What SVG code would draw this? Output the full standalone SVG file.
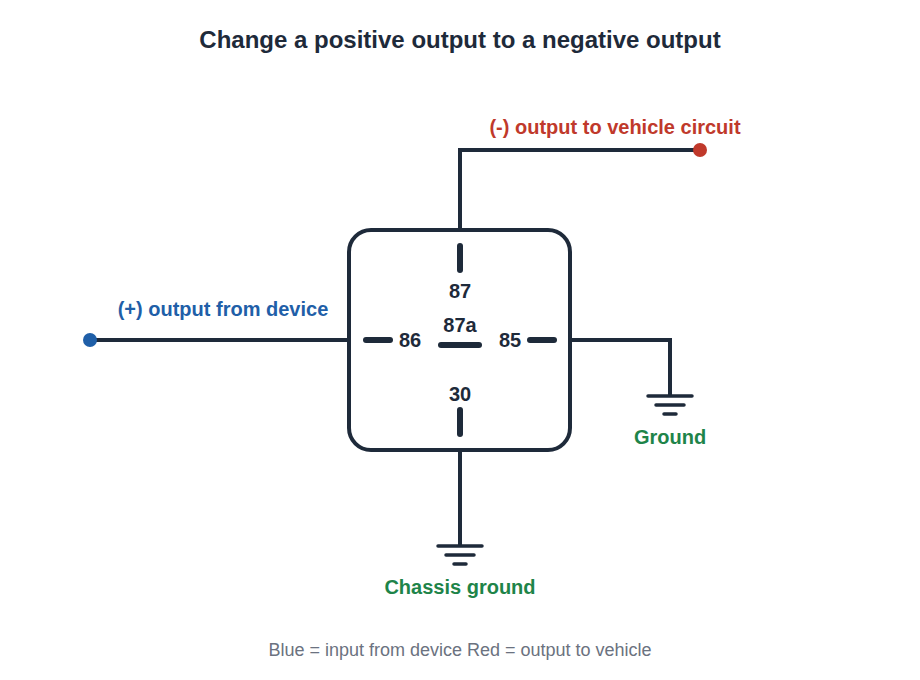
<svg xmlns="http://www.w3.org/2000/svg" width="920" height="680" viewBox="0 0 920 680">
<style>
.w{stroke:#1e2a3a;stroke-width:4;fill:none;stroke-linecap:round}
.pin{stroke:#1e2a3a;stroke-width:6;stroke-linecap:round}
.g{stroke:#1e2a3a;stroke-width:3.5;stroke-linecap:round}
text{font-family:"Liberation Sans",Arial,sans-serif;text-anchor:middle}
.pl{font-size:20px;font-weight:bold;fill:#1e2a3a}
.lb{font-size:20px;font-weight:bold}
</style>
<rect width="920" height="680" fill="#fff"/>
<text x="460" y="48" font-size="24" font-weight="bold" fill="#1e2a3a">Change a positive output to a negative output</text>
<g id="connectors">
<polyline class="w" points="460,230 460,150 700,150"/>
<line class="w" x1="90" y1="340" x2="349" y2="340"/>
<polyline class="w" points="570,340 670,340 670,395"/>
<line class="w" x1="460" y1="450" x2="460" y2="545"/>
</g>
<g id="relay">
<rect x="349" y="230" width="221" height="220" rx="22" class="w"/>
<line class="pin" x1="460" y1="246" x2="460" y2="270"/>
<line class="pin" x1="460" y1="410" x2="460" y2="434"/>
<line class="pin" x1="366" y1="340" x2="390" y2="340"/>
<line class="pin" x1="530" y1="340" x2="554" y2="340"/>
<line class="pin" x1="441" y1="345" x2="479" y2="345"/>
<text class="pl" x="460" y="298">87</text>
<text class="pl" x="460" y="332">87a</text>
<text class="pl" x="410" y="347">86</text>
<text class="pl" x="510" y="347">85</text>
<text class="pl" x="460" y="401">30</text>
</g>
<g id="neg-out">
<circle cx="700" cy="150" r="7" fill="#c0392b"/>
<text class="lb" x="615" y="134" fill="#c0392b">(-) output to vehicle circuit</text>
</g>
<g id="pos-in">
<circle cx="90" cy="340" r="7" fill="#1f5fa8"/>
<text class="lb" x="223" y="316" fill="#1f5fa8">(+) output from device</text>
</g>
<g id="ground">
<line class="g" x1="648" y1="396" x2="692" y2="396"/>
<line class="g" x1="656" y1="405" x2="684" y2="405"/>
<line class="g" x1="664" y1="414" x2="676" y2="414"/>
<text class="lb" x="670" y="444" fill="#1e8449">Ground</text>
</g>
<g id="chassis">
<line class="g" x1="438" y1="546" x2="482" y2="546"/>
<line class="g" x1="446" y1="555" x2="474" y2="555"/>
<line class="g" x1="454" y1="564" x2="466" y2="564"/>
<text class="lb" x="460" y="594" fill="#1e8449">Chassis ground</text>
</g>
<text x="460" y="656" font-size="18" fill="#6b7280">Blue = input from device Red = output to vehicle</text>
</svg>
